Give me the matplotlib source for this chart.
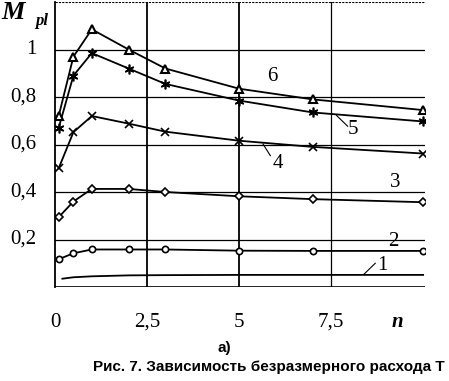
import matplotlib
matplotlib.use("Agg")
import matplotlib.pyplot as plt

n = [0.1, 0.5, 1, 2, 3, 5, 7, 10]
c6 = [0.72, 0.97, 1.085, 1.00, 0.92, 0.835, 0.79, 0.745]
c5 = [0.67, 0.89, 0.985, 0.92, 0.855, 0.785, 0.735, 0.697]
c4 = [0.50, 0.652, 0.72, 0.688, 0.654, 0.616, 0.59, 0.562]
c3 = [0.294, 0.36, 0.413, 0.413, 0.40, 0.382, 0.37, 0.357]
c2 = [0.117, 0.142, 0.158, 0.158, 0.158, 0.153, 0.152, 0.152]
n1 = [0.2, 0.5, 1, 2, 3, 5, 7, 10]
c1 = [0.035, 0.041, 0.045, 0.049, 0.050, 0.051, 0.051, 0.051]

xticks = [0, 2.5, 5, 7.5]
xticklabels = ["0", "2,5", "5", "7,5"]
yticks = [0.2, 0.4, 0.6, 0.8, 1.0]
yticklabels = ["0,2", "0,4", "0,6", "0,8", "1"]

fig = plt.figure(figsize=(4.49, 3.81), dpi=100)
ax = fig.add_axes([0.1225, 0.2467, 0.824, 0.748])
ax.set_xlim(0, 10.05)
ax.set_ylim(0, 1.2)

for v in yticks:
    ax.axhline(v, color="black", lw=0.9, zorder=1)
ax.axhline(0, color="black", lw=1.2, zorder=1)
ax.axhline(1.2, color="black", lw=0.8, ls=(0, (2, 1)), zorder=1)
ax.axvline(2.5, color="black", lw=1.3, zorder=1)
ax.axvline(5, color="black", lw=1.3, zorder=1)
ax.axvline(7.5, color="black", lw=0.9, zorder=1)
for s in ["top", "right", "bottom"]:
    ax.spines[s].set_visible(False)
ax.spines["left"].set_linewidth(1.3)

kw = dict(color="black", lw=1.3, zorder=3)
ax.plot(n1, c1, **kw)
ax.plot(n, c2, marker="o", ms=4.5, mfc="white", mew=1.2, **kw)
ax.plot(n, c3, marker="D", ms=3.8, mfc="white", mew=1.2, **kw)
ax.plot(n, c4, marker="x", ms=6, mew=1.2, **kw)
ax.plot(n, c5, marker=(6, 2, 0), ms=7, mew=1.2, **kw)
ax.plot(n, c6, marker="^", ms=5.5, mfc="white", mew=1.5, **kw)

ax.set_xticks([])
ax.set_yticks([])

serif = "Liberation Serif"
for x, lab in zip(xticks, xticklabels):
    ax.text(x, -0.148, lab, ha="center", va="center", fontsize=15, family=serif, clip_on=False)
ax.text(9.3, -0.148, "n", ha="center", va="center", fontsize=15, family=serif, style="italic", fontweight="bold", clip_on=False)
for y, lab in zip(yticks, yticklabels):
    ax.text(-0.5, y, lab, ha="right", va="center", fontsize=15, family=serif, clip_on=False)

fig.text(0.004, 0.968, "M", fontsize=19, family=serif, style="italic", fontweight="bold", va="center")
fig.text(0.078, 0.945, "pl", fontsize=12, family=serif, style="italic", fontweight="bold", va="center")

# curve labels
ax.text(5.9, 0.885, "6", fontsize=15, family=serif, ha="center", va="center")
ax.text(8.1, 0.665, "5", fontsize=15, family=serif, ha="center", va="center")
ax.plot([7.65, 7.95], [0.722, 0.677], color="black", lw=0.8)
ax.text(6.05, 0.52, "4", fontsize=15, family=serif, ha="center", va="center")
ax.plot([5.65, 5.85], [0.602, 0.553], color="black", lw=0.8)
ax.text(9.24, 0.44, "3", fontsize=15, family=serif, ha="center", va="center")
ax.text(9.2, 0.19, "2", fontsize=15, family=serif, ha="center", va="center")
ax.text(8.9, 0.09, "1", fontsize=15, family=serif, ha="center", va="center")
ax.plot([8.4, 8.7], [0.055, 0.1], color="black", lw=0.8)

fig.text(0.5, 0.087, "а)", fontsize=11, fontweight="bold", family="Liberation Sans", ha="center", va="center")
fig.text(0.207, 0.037, "Рис. 7. Зависимость безразмерного расхода Т", fontsize=11, fontweight="bold", family="Liberation Sans", ha="left", va="center")

fig.savefig("out.png", dpi=100)
